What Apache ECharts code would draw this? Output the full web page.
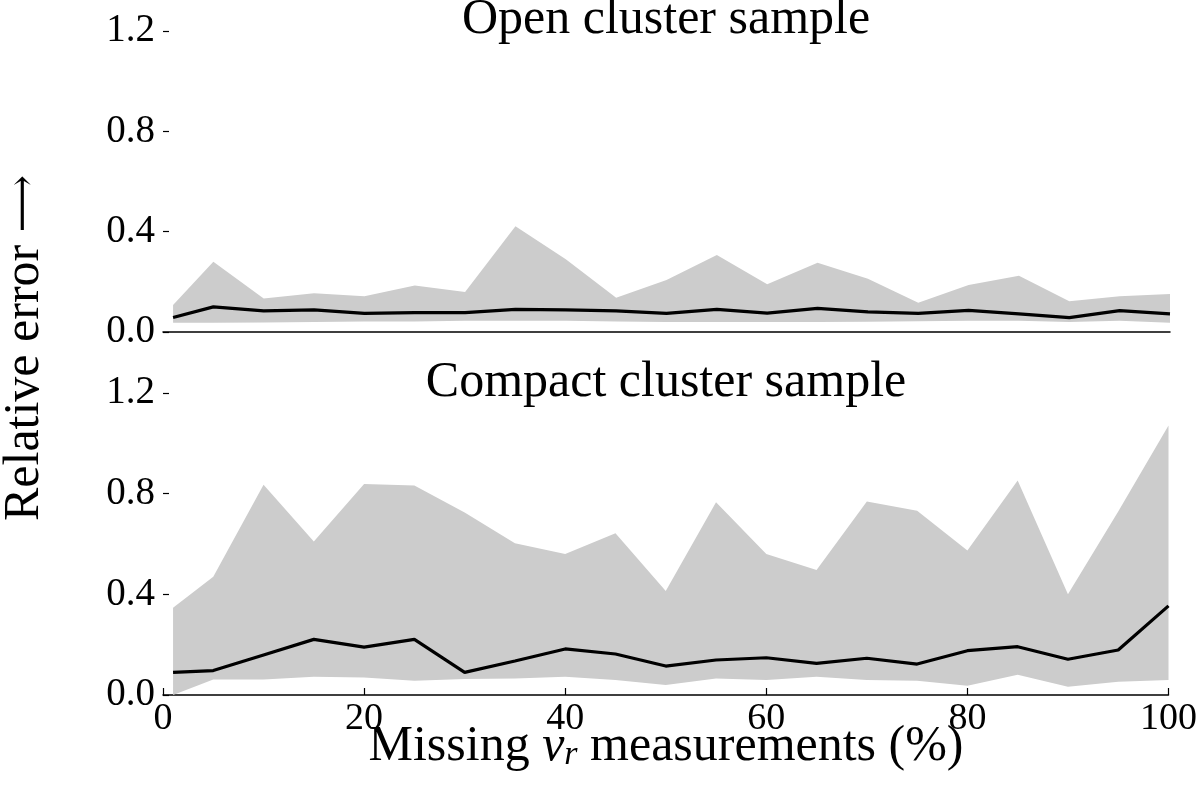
<!DOCTYPE html>
<html><head><meta charset="utf-8">
<script src="https://cdn.jsdelivr.net/npm/echarts@6/dist/echarts.min.js"></script>
<style>html,body{margin:0;padding:0;background:#fff}#c{width:1200px;height:795px}</style>
</head><body><div id="c"></div>
<script>
// Missing v_r measurements (%)
const missingPct = [1, 5, 10, 15, 20, 25, 30, 35, 40, 45, 50, 55, 60, 65, 70, 75, 80, 85, 90, 95, 100];

// Open cluster sample
const openMedian = [0.058, 0.100, 0.084, 0.088, 0.074, 0.077, 0.077, 0.090, 0.088, 0.084, 0.074, 0.090, 0.075, 0.094, 0.080, 0.074, 0.086, 0.072, 0.057, 0.085, 0.072];
const openLower  = [0.037, 0.037, 0.038, 0.040, 0.042, 0.042, 0.045, 0.045, 0.045, 0.042, 0.040, 0.040, 0.040, 0.040, 0.041, 0.043, 0.045, 0.045, 0.040, 0.045, 0.037];
const openUpper  = [0.108, 0.280, 0.134, 0.154, 0.143, 0.185, 0.159, 0.422, 0.290, 0.137, 0.207, 0.307, 0.190, 0.276, 0.212, 0.117, 0.187, 0.224, 0.123, 0.143, 0.151];

// Compact cluster sample
const compactMedian = [0.090, 0.097, 0.159, 0.221, 0.190, 0.221, 0.090, 0.135, 0.183, 0.163, 0.115, 0.139, 0.148, 0.126, 0.146, 0.123, 0.176, 0.192, 0.142, 0.179, 0.354];
const compactLower  = [0.000, 0.062, 0.062, 0.073, 0.070, 0.057, 0.064, 0.066, 0.073, 0.060, 0.040, 0.066, 0.060, 0.073, 0.060, 0.057, 0.037, 0.080, 0.033, 0.053, 0.060];
const compactUpper  = [0.347, 0.470, 0.835, 0.610, 0.838, 0.832, 0.725, 0.603, 0.560, 0.643, 0.413, 0.766, 0.560, 0.497, 0.769, 0.732, 0.574, 0.852, 0.400, 0.729, 1.071];

const yTickStep = 0.4;
const xTickStep = 20;

const panelTitles = ['Open cluster sample', 'Compact cluster sample'];

const FONT = "'Liberation Serif', 'DejaVu Serif', serif";

function bandSeries(idx, lower, upper, median) {
  return [
    { type: 'custom', xAxisIndex: idx, yAxisIndex: idx, silent: true, z: 1,
      data: missingPct.map((x, i) => [x, lower[i], upper[i]]),
      encode: { x: 0, y: [1, 2] },
      renderItem: (params, api) => {
        if (params.dataIndex !== 0) return null;
        const pts = [];
        for (let i = 0; i < missingPct.length; i++) pts.push(api.coord([missingPct[i], upper[i]]));
        for (let i = missingPct.length - 1; i >= 0; i--) pts.push(api.coord([missingPct[i], lower[i]]));
        return { type: 'polygon', shape: { points: pts }, style: { fill: '#cccccc' } };
      } },
    { type: 'line', xAxisIndex: idx, yAxisIndex: idx, data: missingPct.map((x, i) => [x, median[i]]),
      symbol: 'none', lineStyle: { color: '#000', width: 3.2 }, z: 3 }
  ];
}

const yAxisBase = (idx) => ({
  type: 'value', gridIndex: idx, min: 0, max: 1.2, interval: yTickStep,
  axisLine: { show: false },
  axisTick: { show: true, inside: true, length: 6, lineStyle: { color: '#000', width: 1.2 } },
  axisLabel: { color: '#000', fontSize: 39, fontFamily: FONT, margin: 8, formatter: v => v.toFixed(1) },
  splitLine: { show: false }
});

const chart = echarts.init(document.getElementById('c'), null, { renderer: 'canvas' });
chart.setOption({
  animation: false,
  backgroundColor: '#fff',
  grid: [
    { left: 163, right: 30, top: 31, height: 301 },
    { left: 163, right: 30, top: 393, height: 302 }
  ],
  xAxis: [
    { type: 'value', gridIndex: 0, min: 0, max: 100, interval: xTickStep,
      axisLine: { show: true, onZero: false, lineStyle: { color: '#000', width: 1.5 } },
      axisTick: { show: false }, axisLabel: { show: false }, splitLine: { show: false } },
    { type: 'value', gridIndex: 1, min: 0, max: 100, interval: xTickStep,
      axisLine: { show: true, onZero: false, lineStyle: { color: '#000', width: 1.5 } },
      axisTick: { show: true, inside: true, length: 7, lineStyle: { color: '#000', width: 1.2 } },
      axisLabel: { color: '#000', fontSize: 38, fontFamily: FONT, margin: 5 },
      splitLine: { show: false } }
  ],
  yAxis: [yAxisBase(0), yAxisBase(1)],
  series: [
    ...bandSeries(0, openLower, openUpper, openMedian),
    ...bandSeries(1, compactLower, compactUpper, compactMedian)
  ],
  graphic: [
    { type: 'text', x: 666, y: 20, style: { text: panelTitles[0], fill: '#000', font: '50px ' + FONT, textAlign: 'center', textVerticalAlign: 'middle' } },
    { type: 'text', x: 666, y: 383, style: { text: panelTitles[1], fill: '#000', font: '50px ' + FONT, textAlign: 'center', textVerticalAlign: 'middle' } },
    { type: 'text', x: 25, y: 348, rotation: Math.PI / 2, style: {
        text: 'Relative error {a|\u27F6}', fill: '#000', font: '50px ' + FONT, textAlign: 'center', textVerticalAlign: 'middle',
        rich: { a: { fontFamily: "'DejaVu Serif', 'DejaVu Sans', serif", fontSize: 40, fill: '#000' } } } },
    { type: 'text', x: 666, y: 747, style: {
        text: 'Missing {i|v}{s|r} measurements (%)', fill: '#000', font: '50px ' + FONT,
        textAlign: 'center', textVerticalAlign: 'middle',
        rich: {
          i: { fontStyle: 'italic', fontSize: 50, fontFamily: FONT, fill: '#000' },
          s: { fontStyle: 'italic', fontSize: 34, fontFamily: FONT, fill: '#000', verticalAlign: 'bottom', padding: [16, 0, 0, 0] }
        } } }
  ]
});
</script></body></html>
